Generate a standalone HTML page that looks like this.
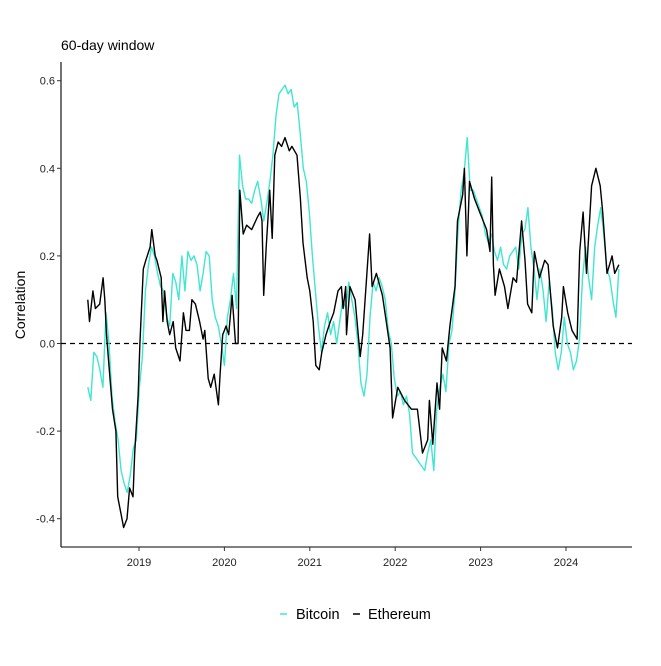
<!DOCTYPE html>
<html><head><meta charset="utf-8"><style>
body{margin:0;background:#fff}
svg text{font-family:"Liberation Sans",Arial,sans-serif}
</style></head><body>
<svg id="chart" width="661" height="661" xmlns="http://www.w3.org/2000/svg">
<rect width="661" height="661" fill="#fff"/>
<text x="61" y="50" font-size="14" fill="#000">60-day window</text>
<text transform="translate(25,305) rotate(-90)" text-anchor="middle" font-size="14" fill="#000">Correlation</text>
<g id="plot"></g>
<g>
<line x1="280" y1="614" x2="287" y2="614" stroke="#40E6D0" stroke-width="1.5"/>
<text x="296" y="619" font-size="14.5">Bitcoin</text>
<line x1="353" y1="614" x2="360" y2="614" stroke="#000" stroke-width="1.5"/>
<text x="368" y="619" font-size="14.5">Ethereum</text>
</g>
</svg>
<script>
const yTicks=[-0.4,-0.2,0.0,0.2,0.4,0.6];
const yTickLabels=["-0.4","-0.2","0.0","0.2","0.4","0.6"];
const xTicks=[2019,2020,2021,2022,2023,2024];
const xTickLabels=["2019","2020","2021","2022","2023","2024"];
const btcStart=2018.40, btcEnd=2024.62;
const btcValues=[-0.10,-0.13,-0.02,-0.03,-0.06,-0.10,0.07,0.00,-0.12,-0.18,-0.22,-0.29,-0.32,-0.34,-0.30,-0.24,-0.22,-0.10,-0.03,0.12,0.18,0.22,0.20,0.16,0.13,0.12,0.06,0.04,0.16,0.14,0.10,0.20,0.12,0.21,0.19,0.20,0.18,0.12,0.16,0.21,0.20,0.10,0.06,0.04,0.00,-0.05,0.06,0.10,0.16,0.08,0.43,0.36,0.33,0.33,0.32,0.35,0.37,0.33,0.28,0.32,0.37,0.43,0.52,0.57,0.58,0.59,0.57,0.58,0.54,0.55,0.48,0.40,0.37,0.30,0.20,0.12,0.04,-0.02,0.04,0.07,0.02,0.05,0.00,0.05,0.10,0.08,0.14,0.10,0.06,0.00,-0.09,-0.12,-0.07,0.06,0.14,0.12,0.15,0.13,0.10,0.03,0.00,-0.08,-0.12,-0.11,-0.14,-0.12,-0.16,-0.25,-0.26,-0.27,-0.28,-0.29,-0.25,-0.22,-0.29,-0.15,-0.10,-0.07,-0.11,0.00,0.03,0.12,0.26,0.35,0.39,0.47,0.35,0.35,0.33,0.31,0.29,0.25,0.23,0.25,0.21,0.19,0.22,0.18,0.17,0.20,0.21,0.22,0.17,0.25,0.26,0.31,0.22,0.17,0.10,0.17,0.12,0.05,0.14,0.08,-0.02,-0.06,-0.02,0.06,0.00,-0.02,-0.06,-0.04,0.01,0.15,0.22,0.15,0.10,0.22,0.27,0.31,0.25,0.17,0.15,0.10,0.06,0.17];
const ethDates=[2018.40,2018.42,2018.46,2018.49,2018.54,2018.58,2018.60,2018.62,2018.66,2018.69,2018.73,2018.75,2018.79,2018.82,2018.86,2018.89,2018.93,2018.95,2018.99,2019.01,2019.05,2019.08,2019.13,2019.15,2019.19,2019.21,2019.26,2019.28,2019.30,2019.33,2019.36,2019.40,2019.43,2019.48,2019.52,2019.55,2019.59,2019.62,2019.66,2019.71,2019.75,2019.77,2019.81,2019.84,2019.88,2019.93,2019.95,2019.98,2020.02,2020.05,2020.09,2020.13,2020.16,2020.18,2020.22,2020.26,2020.32,2020.39,2020.42,2020.44,2020.46,2020.49,2020.53,2020.56,2020.59,2020.63,2020.67,2020.71,2020.76,2020.79,2020.85,2020.89,2020.92,2020.97,2021.00,2021.04,2021.07,2021.11,2021.14,2021.19,2021.24,2021.28,2021.33,2021.37,2021.39,2021.42,2021.43,2021.47,2021.53,2021.59,2021.62,2021.70,2021.73,2021.78,2021.85,2021.94,2021.97,2022.03,2022.11,2022.19,2022.26,2022.32,2022.38,2022.40,2022.44,2022.49,2022.52,2022.55,2022.60,2022.64,2022.70,2022.73,2022.79,2022.81,2022.84,2022.87,2022.93,2022.99,2023.07,2023.11,2023.13,2023.15,2023.17,2023.22,2023.28,2023.32,2023.38,2023.42,2023.48,2023.52,2023.55,2023.60,2023.63,2023.69,2023.75,2023.79,2023.85,2023.90,2023.95,2023.97,2024.02,2024.07,2024.13,2024.16,2024.20,2024.24,2024.30,2024.35,2024.40,2024.43,2024.48,2024.54,2024.57,2024.62];
const ethValues=[0.10,0.05,0.12,0.08,0.09,0.15,0.10,0.02,-0.08,-0.15,-0.20,-0.35,-0.39,-0.42,-0.40,-0.33,-0.35,-0.25,-0.12,0.00,0.17,0.19,0.22,0.26,0.20,0.19,0.15,0.05,0.12,0.05,0.02,0.05,-0.01,-0.04,0.07,0.03,0.03,0.10,0.09,0.05,0.01,0.03,-0.08,-0.10,-0.07,-0.14,-0.07,0.02,0.04,0.02,0.11,0.00,0.00,0.35,0.25,0.27,0.26,0.29,0.30,0.28,0.11,0.22,0.35,0.24,0.43,0.46,0.45,0.47,0.44,0.45,0.43,0.33,0.23,0.15,0.12,0.05,-0.05,-0.06,-0.02,0.02,0.05,0.07,0.12,0.13,0.08,0.13,0.02,0.13,0.10,-0.03,0.02,0.25,0.13,0.16,0.11,-0.01,-0.17,-0.10,-0.13,-0.15,-0.15,-0.25,-0.22,-0.13,-0.23,-0.09,-0.15,-0.01,-0.04,0.04,0.13,0.28,0.34,0.40,0.20,0.37,0.33,0.30,0.26,0.21,0.38,0.18,0.11,0.17,0.13,0.08,0.15,0.14,0.28,0.19,0.09,0.07,0.21,0.15,0.19,0.18,0.04,-0.01,0.06,0.13,0.07,0.03,0.01,0.21,0.30,0.16,0.36,0.40,0.36,0.30,0.16,0.20,0.16,0.18];

const NS="http://www.w3.org/2000/svg";
const plot=document.getElementById('plot');
function xs(t){return 139+(t-2019)*85.4;}
function ys(v){return 343.5-v*438;}
function mk(tag,attrs){const e=document.createElementNS(NS,tag);for(const k in attrs)e.setAttribute(k,attrs[k]);plot.appendChild(e);return e;}

// zero reference line
const z=mk('line',{x1:61,x2:632,y1:ys(0),y2:ys(0),stroke:'#000','stroke-width':1.2,'stroke-dasharray':'5,4'});



// bitcoin
let d='';
const n=btcValues.length, step=(btcEnd-btcStart)/(n-1);
btcValues.forEach((v,i)=>{d+=(i?'L':'M')+xs(btcStart+i*step).toFixed(1)+','+ys(v).toFixed(1);});
const bl=mk('path',{d:d,fill:'none',stroke:'#40E6D0','stroke-width':1.4,'stroke-linejoin':'round'});



// ethereum
d='';
ethValues.forEach((v,i)=>{d+=(i?'L':'M')+xs(ethDates[i]).toFixed(1)+','+ys(v).toFixed(1);});
const el2=mk('path',{d:d,fill:'none',stroke:'#000','stroke-width':1.4,'stroke-linejoin':'round'});



// axes
const ya=mk('line',{x1:61,x2:61,y1:62,y2:547,stroke:'#000','stroke-width':1.1});


const xa=mk('line',{x1:61,x2:632,y1:547,y2:547,stroke:'#000','stroke-width':1.1});



yTicks.forEach((v,i)=>{
  const y=ys(v);
  const t=mk('line',{x1:57,x2:61,y1:y,y2:y,stroke:'#333','stroke-width':1});
  
  
  const l=mk('text',{x:55,y:y+4,'text-anchor':'end','font-size':11,fill:'#222'});
  l.textContent=yTickLabels[i];
  
  
});
xTicks.forEach((t0,i)=>{
  const x=xs(t0);
  const t=mk('line',{x1:x,x2:x,y1:547,y2:551,stroke:'#333','stroke-width':1});
  
  
  const l=mk('text',{x:x,y:566,'text-anchor':'middle','font-size':11,fill:'#222'});
  l.textContent=xTickLabels[i];
  
  
});
</script>
</body></html>
